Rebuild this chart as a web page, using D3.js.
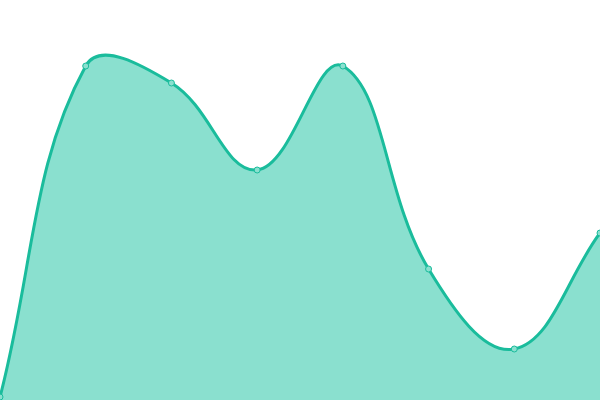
<!DOCTYPE html>
<html>
<head>
<meta charset="utf-8">
<script src="https://cdn.jsdelivr.net/npm/d3@7"></script>
<style>
  html, body { margin: 0; padding: 0; background: #fff; }
  svg { display: block; }
</style>
</head>
<body>
<div id="chart"></div>
<script>
// Data
var categories = [0, 1, 2, 3, 4, 5, 6, 7];
var values = [3, 334, 317, 230, 334, 131, 51, 167];
var yDomain = [0, 400];

var width = 600, height = 400;

// Spline curve with tension (control points scaled by neighbour distances)
function TensionSpline(context, tension) {
    this._context = context;
    this._t = tension;
}
TensionSpline.prototype = {
    areaStart: function() { this._line = 0; },
    areaEnd: function() { this._line = NaN; },
    lineStart: function() { this._pts = []; },
    point: function(x, y) { this._pts.push([+x, +y]); },
    lineEnd: function() {
        var p = this._pts, n = p.length, ctx = this._context, t = this._t;
        if (n) {
            this._line ? ctx.lineTo(p[0][0], p[0][1]) : ctx.moveTo(p[0][0], p[0][1]);
            var cps = p.map(function(cur, i) {
                var prev = p[i - 1] || cur, next = p[i + 1] || cur;
                var d01 = Math.hypot(cur[0] - prev[0], cur[1] - prev[1]);
                var d12 = Math.hypot(next[0] - cur[0], next[1] - cur[1]);
                var s = d01 + d12 || 1;
                var fa = t * d01 / s, fb = t * d12 / s;
                var dx = next[0] - prev[0], dy = next[1] - prev[1];
                return {
                    inX: cur[0] - fa * dx, inY: cur[1] - fa * dy,
                    outX: cur[0] + fb * dx, outY: cur[1] + fb * dy
                };
            });
            for (var i = 1; i < n; i++) {
                ctx.bezierCurveTo(cps[i - 1].outX, cps[i - 1].outY,
                    cps[i].inX, cps[i].inY, p[i][0], p[i][1]);
            }
        }
        if (this._line || (this._line !== 0 && n === 1)) ctx.closePath();
        this._line = 1 - this._line;
    }
};
var curve = function(context) { return new TensionSpline(context, 0.4); };

var svg = d3.select("#chart").append("svg")
    .attr("width", width)
    .attr("height", height);

var x = d3.scaleLinear()
    .domain(d3.extent(categories))
    .range([0, width]);

var y = d3.scaleLinear()
    .domain(yDomain)
    .range([height, 0]);

var points = categories.map(function(c, i) { return [c, values[i]]; });

// Filled area
var area = d3.area()
    .x(function(d) { return x(d[0]); })
    .y0(height)
    .y1(function(d) { return y(d[1]); })
    .curve(curve);

svg.append("path")
    .datum(points)
    .attr("d", area)
    .attr("fill", "#8ae0cf");

// Line on top
var line = d3.line()
    .x(function(d) { return x(d[0]); })
    .y(function(d) { return y(d[1]); })
    .curve(curve);

svg.append("path")
    .datum(points)
    .attr("d", line)
    .attr("fill", "none")
    .attr("stroke", "#1abc9c")
    .attr("stroke-width", 3);

// Dots
svg.selectAll(".dot")
    .data(points)
    .enter().append("circle")
    .attr("class", "dot")
    .attr("cx", function(d) { return x(d[0]); })
    .attr("cy", function(d) { return y(d[1]); })
    .attr("r", 3)
    .attr("fill", "#8ae0cf")
    .attr("stroke", "#1abc9c")
    .attr("stroke-width", 1);
</script>
</body>
</html>
